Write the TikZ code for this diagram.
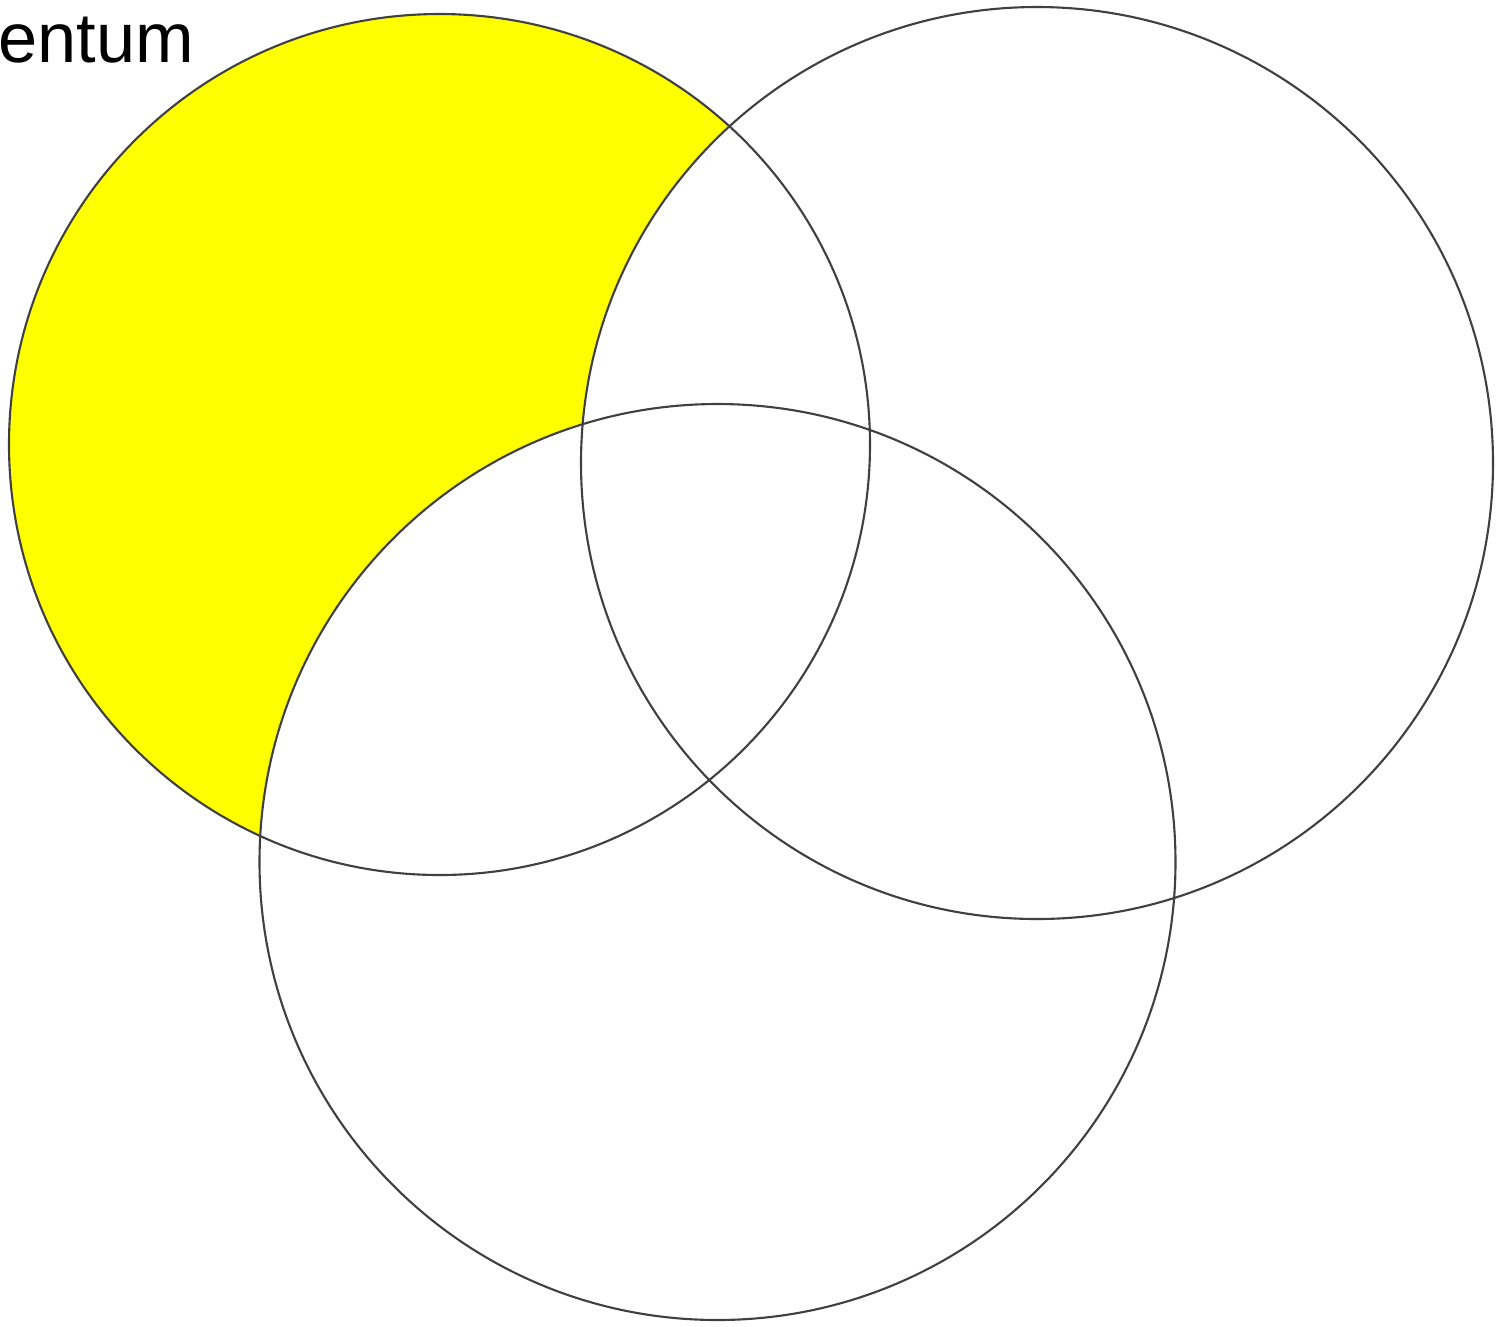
\documentclass[tikz,border=0pt]{standalone}
\usepackage{fontspec}
\setmainfont{Liberation Sans}
\definecolor{vennyellow}{RGB}{255,255,0}
\begin{document}
\begin{tikzpicture}[x=.01cm,y=-.01cm,line cap=round]
\useasboundingbox (0,0) rectangle (1499,1326);
\def\ra{430.5}
\def\rb{456}
\def\rc{458}
\fill[vennyellow] (439.5,444.5) circle[radius=\ra];
\fill[white] (1037,463) circle[radius=\rb] (717.5,862) circle[radius=\rc];

\foreach \cx/\cy/\r in {439.5/444.5/\ra,1037/463/\rb,717.5/862/\rc}{
  \draw[black!75,line width=.6pt] (\cx,\cy) circle[radius=\r];
}
\node[anchor=base west,inner sep=0,font=\fontsize{20}{24}\selectfont] (title) at (-2,62) {entum};
\end{tikzpicture}
\end{document}
